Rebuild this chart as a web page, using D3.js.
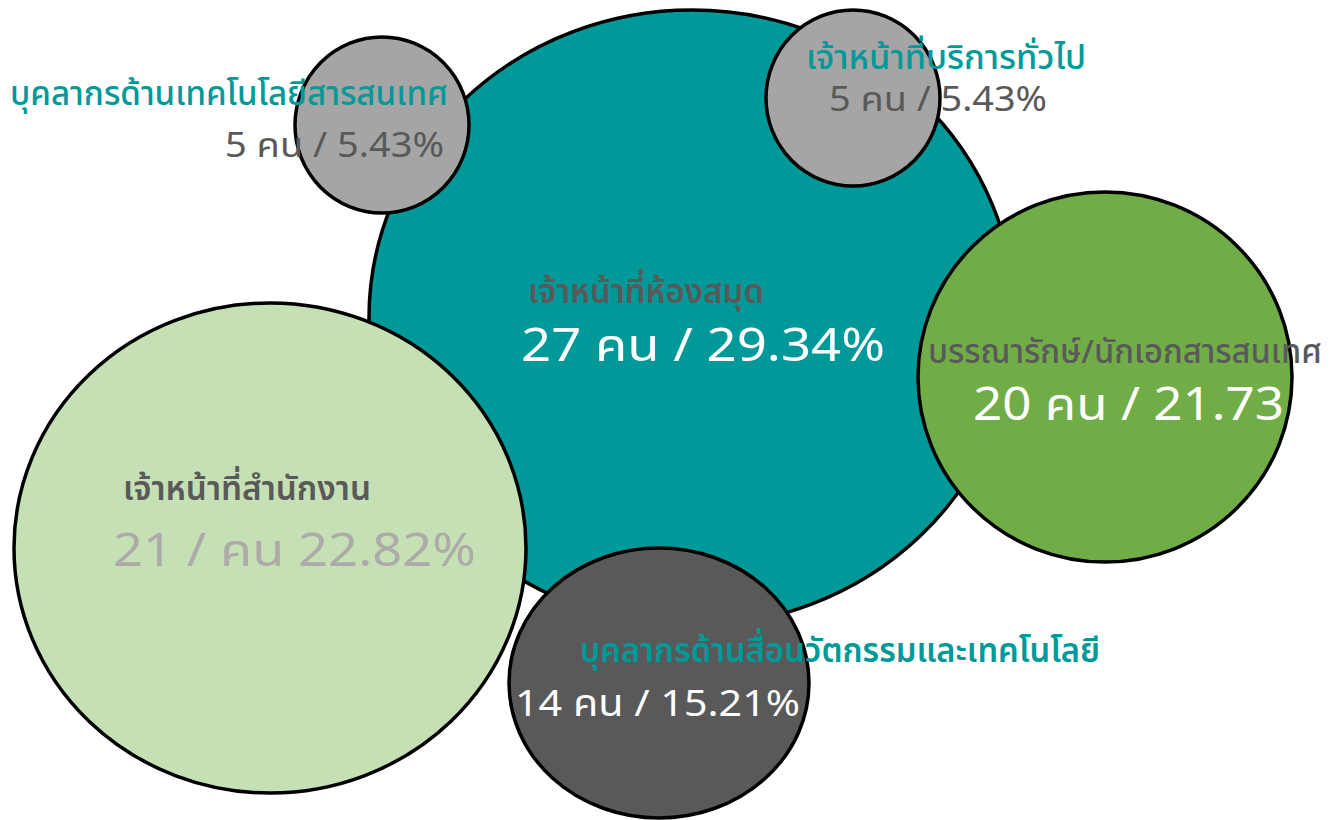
<!DOCTYPE html>
<html>
<head>
<meta charset="utf-8">
<script src="https://cdn.jsdelivr.net/npm/d3@7"></script>
<style>
  html, body { margin: 0; padding: 0; background: #fff; }
  svg { display: block; }
</style>
</head>
<body>
<div id="dataviz_personal"></div>
<script>
// ━━━━━━━━━━━━━━━━━━━━━━━━━━━━━━━━━━━━━━━━━━━━━━━━━━━━━━━━━━━━━━━━━━━━━━━━━━━━━━
// Datos ////////////////////////////////////////////////////////////////////////
// ━━━━━━━━━━━━━━━━━━━━━━━━━━━━━━━━━━━━━━━━━━━━━━━━━━━━━━━━━━━━━━━━━━━━━━━━━━━━━━

const categories = [
  'เจ้าหน้าที่ห้องสมุด',
  'เจ้าหน้าที่สำนักงาน',
  'บุคลากรด้านสื่อนวัตกรรมและเทคโนโลยี',
  'บุคลากรด้านเทคโนโลยีสารสนเทศ',
  'เจ้าหน้าที่บริการทั่วไป',
  'บรรณารักษ์/นักเอกสารสนเทศ'
];
const counts   = [27, 21, 14, 5, 5, 20];
const percents = ['29.34%', '22.82%', '15.21%', '5.43%', '5.43%', '21.73'];
// el orden de "คน" cambia en un par de etiquetas del original
const valueLabels = [
  '27 คน / 29.34%',
  '21 / คน 22.82%',
  '14 คน / 15.21%',
  '5 คน / 5.43%',
  '5 คน / 5.43%',
  '20 คน / 21.73'
];

const width = 1338, height = 820;

// burbujas colocadas a mano (no siguen el valor)
// nw / vw: ancho del texto en el original
const bubbles = [
  { cx: 692, cy: 318, rx: 323, ry: 308, fill: '#009999', name: '#595959', value: '#ffffff', nx: 528, ny: 303, nw: 236, vx: 521, vy: 361, vw: 364, ns: 33, vs: 45, bold: true },
  { cx: 270, cy: 548, rx: 256, ry: 245, fill: '#c5e0b4', name: '#595959', value: '#aeaaaa', nx: 123, ny: 500, nw: 248, vx: 113, vy: 566, vw: 363, ns: 33, vs: 45, bold: true },
  { cx: 659, cy: 683, rx: 150, ry: 135, fill: '#595959', name: '#009999', value: '#ffffff', nx: 580, ny: 662, nw: 520, vx: 515, vy: 716, vw: 285, ns: 33, vs: 37, bold: true },
  { cx: 382, cy: 125, rx: 87,  ry: 88,  fill: '#a5a5a5', name: '#009999', value: '#595959', nx: 10,  ny: 105, nw: 438, vx: 225, vy: 157, vw: 219, ns: 33, vs: 34, bold: false },
  { cx: 853, cy: 98,  rx: 87,  ry: 88,  fill: '#a5a5a5', name: '#009999', value: '#595959', nx: 806, ny: 69,  nw: 280, vx: 829, vy: 111, vw: 218, ns: 33, vs: 34, bold: false },
  { cx: 1105, cy: 377, rx: 187, ry: 185, fill: '#70ad47', name: '#595959', value: '#ffffff', nx: 928, ny: 363, nw: 394, vx: 973, vy: 420, vw: 311, ns: 33, vs: 45, bold: false }
];

const data = categories.map((c, i) => ({ category: c, count: counts[i], percent: percents[i], label: valueLabels[i], ...bubbles[i] }));

// ━━━━━━━━━━━━━━━━━━━━━━━━━━━━━━━━━━━━━━━━━━━━━━━━━━━━━━━━━━━━━━━━━━━━━━━━━━━━━━
// SVG setup ////////////////////////////////////////////////////////////////////
// ━━━━━━━━━━━━━━━━━━━━━━━━━━━━━━━━━━━━━━━━━━━━━━━━━━━━━━━━━━━━━━━━━━━━━━━━━━━━━━

const svg = d3.select('#dataviz_personal').append('svg')
  .attr('viewBox', [0, 0, width, height])
  .attr('width', width)
  .attr('height', height);

const  circles = svg.append('g').attr('id', 'burbujas');
const   labels = svg.append('g').attr('id', 'etiquetas');

const font = "Tahoma, 'Noto Sans', 'Noto Sans Thai', sans-serif";

circles.selectAll('ellipse')
  .data(data)
  .join('ellipse')
  .attr('cx', d => d.cx)
  .attr('cy', d => d.cy)
  .attr('rx', d => d.rx)
  .attr('ry', d => d.ry)
  .attr('fill', d => d.fill)
  .attr('stroke', '#000')
  .attr('stroke-width', 3.5);

// nombre de la categoría
labels.selectAll('text.name')
  .data(data)
  .join('text')
  .attr('class', 'name')
  .attr('x', d => d.nx)
  .attr('y', d => d.ny)
  .attr('textLength', d => d.nw)
  .attr('lengthAdjust', 'spacingAndGlyphs')
  .attr('fill', d => d.name)
  .attr('font-family', font)
  .attr('font-size', d => d.ns)
  .attr('font-weight', d => d.bold ? 600 : 500)
  .text(d => d.category);

// cantidad / porcentaje
labels.selectAll('text.value')
  .data(data)
  .join('text')
  .attr('class', 'value')
  .attr('x', d => d.vx)
  .attr('y', d => d.vy)
  .attr('textLength', d => d.vw)
  .attr('lengthAdjust', 'spacingAndGlyphs')
  .attr('fill', d => d.value)
  .attr('font-family', font)
  .attr('font-size', d => d.vs)
  .text(d => d.label);
</script>
</body>
</html>
